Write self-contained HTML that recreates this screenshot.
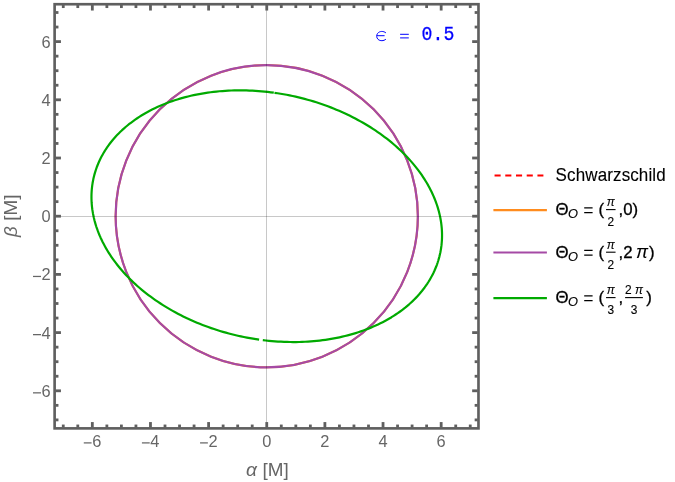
<!DOCTYPE html>
<html><head><meta charset="utf-8"><title>plot</title>
<style>html,body{margin:0;padding:0;background:#fff;}body{width:675px;height:482px;overflow:hidden;font-family:"Liberation Sans",sans-serif;}svg{display:block;will-change:transform;}text{font-family:"Liberation Sans",sans-serif;}.mono{font-family:"Liberation Mono",monospace;}</style>
</head><body>
<svg width="675" height="482" viewBox="0 0 675 482">
<rect width="675" height="482" fill="#fff"/>
<circle cx="266.75" cy="216.20" r="151.13" fill="none" stroke="#ff8c1e" stroke-width="2.05"/>
<circle cx="266.75" cy="216.20" r="151.13" fill="none" stroke="#a54aa5" stroke-width="2.20"/>
<path d="M273.80,92.69 L270.75,92.29 L267.69,91.93 L264.63,91.60 L261.58,91.31 L258.52,91.06 L255.47,90.85 L252.43,90.67 L249.38,90.54 L246.34,90.44 L243.31,90.38 L240.29,90.36 L237.27,90.37 L234.26,90.43 L231.26,90.52 L228.28,90.65 L225.30,90.82 L222.34,91.03 L219.39,91.27 L216.45,91.56 L213.53,91.88 L210.63,92.24 L207.74,92.64 L204.88,93.07 L202.03,93.54 L199.20,94.05 L196.39,94.60 L193.60,95.18 L190.83,95.80 L188.09,96.46 L185.37,97.15 L182.68,97.88 L180.01,98.64 L177.37,99.44 L174.75,100.28 L172.16,101.15 L169.60,102.06 L167.08,103.00 L164.58,103.97 L162.11,104.98 L159.67,106.03 L157.27,107.10 L154.90,108.21 L152.57,109.36 L150.26,110.53 L148.00,111.74 L145.77,112.98 L143.58,114.25 L141.42,115.55 L139.30,116.88 L137.22,118.25 L135.18,119.64 L133.19,121.06 L131.23,122.51 L129.31,123.99 L127.43,125.50 L125.60,127.03 L123.81,128.59 L122.06,130.18 L120.36,131.80 L118.70,133.44 L117.09,135.10 L115.52,136.79 L114.00,138.51 L112.52,140.24 L111.09,142.00 L109.71,143.79 L108.38,145.59 L107.09,147.42 L105.85,149.27 L104.67,151.13 L103.53,153.02 L102.44,154.93 L101.40,156.85 L100.41,158.80 L99.47,160.76 L98.58,162.74 L97.75,164.73 L96.96,166.74 L96.23,168.77 L95.55,170.81 L94.92,172.86 L94.34,174.92 L93.81,177.00 L93.34,179.09 L92.92,181.20 L92.55,183.31 L92.24,185.43 L91.98,187.56 L91.77,189.70 L91.62,191.85 L91.51,194.01 L91.47,196.17 L91.47,198.34 L91.53,200.51 L91.64,202.69 L91.81,204.88 L92.02,207.06 L92.29,209.25 L92.62,211.44 L93.00,213.64 L93.43,215.83 L93.91,218.03 L94.44,220.22 L95.03,222.41 L95.67,224.60 L96.36,226.79 L97.11,228.97 L97.90,231.15 L98.75,233.33 L99.64,235.50 L100.59,237.67 L101.59,239.82 L102.64,241.98 L103.74,244.12 L104.89,246.25 L106.08,248.38 L107.33,250.50 L108.62,252.60 L109.97,254.70 L111.36,256.78 L112.80,258.85 L114.28,260.91 L115.81,262.95 L117.39,264.98 L119.01,267.00 L120.68,269.00 L122.39,270.98 L124.14,272.95 L125.94,274.89 L127.78,276.83 L129.67,278.74 L131.59,280.63 L133.56,282.51 L135.57,284.36 L137.61,286.20 L139.70,288.01 L141.82,289.80 L143.99,291.57 L146.19,293.31 L148.42,295.04 L150.69,296.73 L153.00,298.41 L155.35,300.06 L157.72,301.68 L160.13,303.28 L162.57,304.85 L165.05,306.39 L167.55,307.91 L170.08,309.40 L172.65,310.86 L175.24,312.29 L177.86,313.69 L180.51,315.06 L183.18,316.40 L185.88,317.72 L188.60,319.00 L191.35,320.25 L194.12,321.46 L196.91,322.65 L199.73,323.81 L202.56,324.93 L205.42,326.01 L208.29,327.07 L211.18,328.09 L214.08,329.08 L217.01,330.03 L219.94,330.95 L222.90,331.83 L225.86,332.68 L228.84,333.49 L231.83,334.27 L234.83,335.01 L237.84,335.72 L240.86,336.38 L243.88,337.02 L246.92,337.61 L249.96,338.17 L253.00,338.69 L256.05,339.18 L259.10,339.62" fill="none" stroke="#00aa00" stroke-width="2.20" stroke-linejoin="round"/>
<path d="M262.80,340.11 L265.84,340.48 L268.88,340.80 L271.91,341.09 L274.95,341.34 L277.98,341.55 L281.01,341.72 L284.04,341.86 L287.06,341.96 L290.07,342.02 L293.08,342.04 L296.08,342.03 L299.07,341.98 L302.05,341.89 L305.02,341.76 L307.98,341.59 L310.93,341.39 L313.86,341.15 L316.78,340.87 L319.69,340.55 L322.57,340.20 L325.45,339.81 L328.30,339.38 L331.14,338.92 L333.95,338.42 L336.75,337.88 L339.52,337.30 L342.28,336.69 L345.01,336.04 L347.71,335.36 L350.39,334.64 L353.05,333.89 L355.68,333.10 L358.29,332.27 L360.87,331.41 L363.41,330.52 L365.93,329.59 L368.42,328.62 L370.88,327.63 L373.31,326.60 L375.71,325.53 L378.07,324.44 L380.40,323.31 L382.70,322.15 L384.96,320.95 L387.18,319.73 L389.37,318.47 L391.53,317.19 L393.64,315.87 L395.72,314.52 L397.76,313.15 L399.76,311.74 L401.71,310.31 L403.63,308.85 L405.51,307.36 L407.34,305.84 L409.14,304.30 L410.89,302.72 L412.60,301.13 L414.26,299.51 L415.88,297.86 L417.45,296.19 L418.98,294.49 L420.46,292.77 L421.90,291.03 L423.29,289.26 L424.64,287.48 L425.93,285.67 L427.18,283.84 L428.38,281.99 L429.53,280.12 L430.63,278.23 L431.69,276.33 L432.69,274.40 L433.65,272.46 L434.55,270.50 L435.40,268.52 L436.21,266.53 L436.96,264.52 L437.66,262.50 L438.31,260.47 L438.90,258.42 L439.45,256.36 L439.94,254.29 L440.39,252.20 L440.78,250.11 L441.11,248.00 L441.40,245.89 L441.63,243.76 L441.81,241.63 L441.94,239.49 L442.02,237.34 L442.04,235.19 L442.01,233.03 L441.93,230.87 L441.79,228.70 L441.60,226.53 L441.36,224.35 L441.07,222.17 L440.72,219.99 L440.32,217.81 L439.87,215.63 L439.37,213.45 L438.82,211.27 L438.21,209.09 L437.56,206.91 L436.85,204.74 L436.09,202.57 L435.28,200.40 L434.42,198.24 L433.51,196.09 L432.55,193.94 L431.53,191.79 L430.47,189.66 L429.36,187.53 L428.21,185.41 L427.00,183.30 L425.74,181.20 L424.44,179.11 L423.09,177.03 L421.69,174.96 L420.25,172.91 L418.76,170.87 L417.22,168.84 L415.64,166.83 L414.02,164.83 L412.35,162.84 L410.63,160.88 L408.88,158.93 L407.08,156.99 L405.23,155.08 L403.35,153.18 L401.43,151.30 L399.46,149.44 L397.46,147.60 L395.41,145.79 L393.33,143.99 L391.21,142.21 L389.05,140.46 L386.86,138.73 L384.63,137.02 L382.36,135.34 L380.06,133.68 L377.72,132.05 L375.36,130.44 L372.95,128.85 L370.52,127.30 L368.06,125.77 L365.56,124.26 L363.04,122.79 L360.49,121.34 L357.90,119.92 L355.30,118.53 L352.66,117.17 L350.00,115.84 L347.31,114.54 L344.60,113.27 L341.87,112.03 L339.11,110.82 L336.33,109.64 L333.54,108.50 L330.72,107.39 L327.88,106.31 L325.02,105.26 L322.15,104.25 L319.26,103.27 L316.35,102.32 L313.43,101.41 L310.49,100.54 L307.55,99.69 L304.58,98.89 L301.61,98.12 L298.63,97.38 L295.64,96.68 L292.64,96.01 L289.63,95.39 L286.61,94.79 L283.59,94.24 L280.56,93.72 L277.53,93.24 L274.50,92.79" fill="none" stroke="#00aa00" stroke-width="2.20" stroke-linejoin="round"/>
<g stroke="#000" stroke-opacity="0.215" stroke-width="1" shape-rendering="crispEdges">
<line x1="266.5" y1="4.22" x2="266.5" y2="428.38"/>
<line x1="54.62" y1="216.5" x2="478.48" y2="216.5"/>
</g>
<rect x="54.62" y="4.22" width="423.86" height="424.16" fill="none" stroke="#5f5f5f" stroke-width="2.65"/>
<g stroke="#5f5f5f" stroke-width="2.80">
<line x1="63.26" y1="424.56" x2="63.26" y2="427.56"/>
<line x1="63.26" y1="5.04" x2="63.26" y2="8.04"/>
<line x1="55.45" y1="419.90" x2="58.45" y2="419.90"/>
<line x1="474.66" y1="419.90" x2="477.66" y2="419.90"/>
<line x1="77.79" y1="424.56" x2="77.79" y2="427.56"/>
<line x1="77.79" y1="5.04" x2="77.79" y2="8.04"/>
<line x1="55.45" y1="405.35" x2="58.45" y2="405.35"/>
<line x1="474.66" y1="405.35" x2="477.66" y2="405.35"/>
<line x1="92.33" y1="422.06" x2="92.33" y2="427.56"/>
<line x1="92.33" y1="5.04" x2="92.33" y2="10.54"/>
<line x1="55.45" y1="390.80" x2="60.95" y2="390.80"/>
<line x1="472.16" y1="390.80" x2="477.66" y2="390.80"/>
<line x1="106.87" y1="424.56" x2="106.87" y2="427.56"/>
<line x1="106.87" y1="5.04" x2="106.87" y2="8.04"/>
<line x1="55.45" y1="376.25" x2="58.45" y2="376.25"/>
<line x1="474.66" y1="376.25" x2="477.66" y2="376.25"/>
<line x1="121.40" y1="424.56" x2="121.40" y2="427.56"/>
<line x1="121.40" y1="5.04" x2="121.40" y2="8.04"/>
<line x1="55.45" y1="361.70" x2="58.45" y2="361.70"/>
<line x1="474.66" y1="361.70" x2="477.66" y2="361.70"/>
<line x1="135.94" y1="424.56" x2="135.94" y2="427.56"/>
<line x1="135.94" y1="5.04" x2="135.94" y2="8.04"/>
<line x1="55.45" y1="347.15" x2="58.45" y2="347.15"/>
<line x1="474.66" y1="347.15" x2="477.66" y2="347.15"/>
<line x1="150.47" y1="422.06" x2="150.47" y2="427.56"/>
<line x1="150.47" y1="5.04" x2="150.47" y2="10.54"/>
<line x1="55.45" y1="332.60" x2="60.95" y2="332.60"/>
<line x1="472.16" y1="332.60" x2="477.66" y2="332.60"/>
<line x1="165.00" y1="424.56" x2="165.00" y2="427.56"/>
<line x1="165.00" y1="5.04" x2="165.00" y2="8.04"/>
<line x1="55.45" y1="318.05" x2="58.45" y2="318.05"/>
<line x1="474.66" y1="318.05" x2="477.66" y2="318.05"/>
<line x1="179.54" y1="424.56" x2="179.54" y2="427.56"/>
<line x1="179.54" y1="5.04" x2="179.54" y2="8.04"/>
<line x1="55.45" y1="303.50" x2="58.45" y2="303.50"/>
<line x1="474.66" y1="303.50" x2="477.66" y2="303.50"/>
<line x1="194.07" y1="424.56" x2="194.07" y2="427.56"/>
<line x1="194.07" y1="5.04" x2="194.07" y2="8.04"/>
<line x1="55.45" y1="288.95" x2="58.45" y2="288.95"/>
<line x1="474.66" y1="288.95" x2="477.66" y2="288.95"/>
<line x1="208.61" y1="422.06" x2="208.61" y2="427.56"/>
<line x1="208.61" y1="5.04" x2="208.61" y2="10.54"/>
<line x1="55.45" y1="274.40" x2="60.95" y2="274.40"/>
<line x1="472.16" y1="274.40" x2="477.66" y2="274.40"/>
<line x1="223.14" y1="424.56" x2="223.14" y2="427.56"/>
<line x1="223.14" y1="5.04" x2="223.14" y2="8.04"/>
<line x1="55.45" y1="259.85" x2="58.45" y2="259.85"/>
<line x1="474.66" y1="259.85" x2="477.66" y2="259.85"/>
<line x1="237.68" y1="424.56" x2="237.68" y2="427.56"/>
<line x1="237.68" y1="5.04" x2="237.68" y2="8.04"/>
<line x1="55.45" y1="245.30" x2="58.45" y2="245.30"/>
<line x1="474.66" y1="245.30" x2="477.66" y2="245.30"/>
<line x1="252.22" y1="424.56" x2="252.22" y2="427.56"/>
<line x1="252.22" y1="5.04" x2="252.22" y2="8.04"/>
<line x1="55.45" y1="230.75" x2="58.45" y2="230.75"/>
<line x1="474.66" y1="230.75" x2="477.66" y2="230.75"/>
<line x1="266.75" y1="422.06" x2="266.75" y2="427.56"/>
<line x1="266.75" y1="5.04" x2="266.75" y2="10.54"/>
<line x1="55.45" y1="216.20" x2="60.95" y2="216.20"/>
<line x1="472.16" y1="216.20" x2="477.66" y2="216.20"/>
<line x1="281.29" y1="424.56" x2="281.29" y2="427.56"/>
<line x1="281.29" y1="5.04" x2="281.29" y2="8.04"/>
<line x1="55.45" y1="201.65" x2="58.45" y2="201.65"/>
<line x1="474.66" y1="201.65" x2="477.66" y2="201.65"/>
<line x1="295.82" y1="424.56" x2="295.82" y2="427.56"/>
<line x1="295.82" y1="5.04" x2="295.82" y2="8.04"/>
<line x1="55.45" y1="187.10" x2="58.45" y2="187.10"/>
<line x1="474.66" y1="187.10" x2="477.66" y2="187.10"/>
<line x1="310.36" y1="424.56" x2="310.36" y2="427.56"/>
<line x1="310.36" y1="5.04" x2="310.36" y2="8.04"/>
<line x1="55.45" y1="172.55" x2="58.45" y2="172.55"/>
<line x1="474.66" y1="172.55" x2="477.66" y2="172.55"/>
<line x1="324.89" y1="422.06" x2="324.89" y2="427.56"/>
<line x1="324.89" y1="5.04" x2="324.89" y2="10.54"/>
<line x1="55.45" y1="158.00" x2="60.95" y2="158.00"/>
<line x1="472.16" y1="158.00" x2="477.66" y2="158.00"/>
<line x1="339.43" y1="424.56" x2="339.43" y2="427.56"/>
<line x1="339.43" y1="5.04" x2="339.43" y2="8.04"/>
<line x1="55.45" y1="143.45" x2="58.45" y2="143.45"/>
<line x1="474.66" y1="143.45" x2="477.66" y2="143.45"/>
<line x1="353.96" y1="424.56" x2="353.96" y2="427.56"/>
<line x1="353.96" y1="5.04" x2="353.96" y2="8.04"/>
<line x1="55.45" y1="128.90" x2="58.45" y2="128.90"/>
<line x1="474.66" y1="128.90" x2="477.66" y2="128.90"/>
<line x1="368.50" y1="424.56" x2="368.50" y2="427.56"/>
<line x1="368.50" y1="5.04" x2="368.50" y2="8.04"/>
<line x1="55.45" y1="114.35" x2="58.45" y2="114.35"/>
<line x1="474.66" y1="114.35" x2="477.66" y2="114.35"/>
<line x1="383.03" y1="422.06" x2="383.03" y2="427.56"/>
<line x1="383.03" y1="5.04" x2="383.03" y2="10.54"/>
<line x1="55.45" y1="99.80" x2="60.95" y2="99.80"/>
<line x1="472.16" y1="99.80" x2="477.66" y2="99.80"/>
<line x1="397.56" y1="424.56" x2="397.56" y2="427.56"/>
<line x1="397.56" y1="5.04" x2="397.56" y2="8.04"/>
<line x1="55.45" y1="85.25" x2="58.45" y2="85.25"/>
<line x1="474.66" y1="85.25" x2="477.66" y2="85.25"/>
<line x1="412.10" y1="424.56" x2="412.10" y2="427.56"/>
<line x1="412.10" y1="5.04" x2="412.10" y2="8.04"/>
<line x1="55.45" y1="70.70" x2="58.45" y2="70.70"/>
<line x1="474.66" y1="70.70" x2="477.66" y2="70.70"/>
<line x1="426.63" y1="424.56" x2="426.63" y2="427.56"/>
<line x1="426.63" y1="5.04" x2="426.63" y2="8.04"/>
<line x1="55.45" y1="56.15" x2="58.45" y2="56.15"/>
<line x1="474.66" y1="56.15" x2="477.66" y2="56.15"/>
<line x1="441.17" y1="422.06" x2="441.17" y2="427.56"/>
<line x1="441.17" y1="5.04" x2="441.17" y2="10.54"/>
<line x1="55.45" y1="41.60" x2="60.95" y2="41.60"/>
<line x1="472.16" y1="41.60" x2="477.66" y2="41.60"/>
<line x1="455.71" y1="424.56" x2="455.71" y2="427.56"/>
<line x1="455.71" y1="5.04" x2="455.71" y2="8.04"/>
<line x1="55.45" y1="27.05" x2="58.45" y2="27.05"/>
<line x1="474.66" y1="27.05" x2="477.66" y2="27.05"/>
<line x1="470.24" y1="424.56" x2="470.24" y2="427.56"/>
<line x1="470.24" y1="5.04" x2="470.24" y2="8.04"/>
<line x1="55.45" y1="12.50" x2="58.45" y2="12.50"/>
<line x1="474.66" y1="12.50" x2="477.66" y2="12.50"/>
</g>
<g fill="#666" font-size="16.40">
<text x="92.13" y="446.90">6</text>
<line x1="83.78" y1="442.90" x2="91.58" y2="442.90" stroke="#666" stroke-width="1.25"/>
<text x="50.60" y="396.75" text-anchor="end">6</text>
<line x1="33.00" y1="392.85" x2="41.00" y2="392.85" stroke="#666" stroke-width="1.25"/>
<text x="150.27" y="446.90">4</text>
<line x1="141.92" y1="442.90" x2="149.72" y2="442.90" stroke="#666" stroke-width="1.25"/>
<text x="50.60" y="338.55" text-anchor="end">4</text>
<line x1="33.00" y1="334.65" x2="41.00" y2="334.65" stroke="#666" stroke-width="1.25"/>
<text x="208.41" y="446.90">2</text>
<line x1="200.06" y1="442.90" x2="207.86" y2="442.90" stroke="#666" stroke-width="1.25"/>
<text x="50.60" y="280.35" text-anchor="end">2</text>
<line x1="33.00" y1="276.45" x2="41.00" y2="276.45" stroke="#666" stroke-width="1.25"/>
<text x="266.75" y="446.90" text-anchor="middle">0</text>
<text x="50.60" y="222.15" text-anchor="end">0</text>
<text x="324.89" y="446.90" text-anchor="middle">2</text>
<text x="50.60" y="163.95" text-anchor="end">2</text>
<text x="383.03" y="446.90" text-anchor="middle">4</text>
<text x="50.60" y="105.75" text-anchor="end">4</text>
<text x="441.17" y="446.90" text-anchor="middle">6</text>
<text x="50.60" y="47.55" text-anchor="end">6</text>
</g>
<g fill="#666" font-size="18.40">
<text x="245.9" y="475.9" font-size="19.2" font-style="italic">α</text>
<text x="262.6" y="475.9" font-size="18.9">[M]</text>
<g transform="translate(16.9,216.6) rotate(-90)">
<text x="-20.5" y="0" font-size="18.8" font-style="italic">β</text>
<text x="-4.2" y="0" font-size="18.9">[M]</text>
</g>
</g>
<g fill="none" stroke="#0000ff" stroke-width="1.0">
<path d="M385.9,32.9 C383.6,30.9 379.6,30.9 377.7,33.3 C376.2,35.2 376.4,37.8 378.0,39.3 C380.2,41.3 383.7,41.0 385.9,39.2"/>
<path d="M376.9,35.7 H384.6"/>
<path d="M400.1,34.3 H408.8 M400.1,37.9 H408.8"/>
</g>
<text class="mono" fill="#0000ff" font-size="20.3" stroke="#0000ff" stroke-width="0.28" transform="translate(421.6,40.3) scale(0.895,1)">0.5</text>
<g fill="none" stroke-width="2.20">
<line x1="494.55" y1="175.5" x2="543.4" y2="175.5" stroke="#ff0000" stroke-dasharray="6.1 4.62"/>
<line x1="493.4" y1="210.1" x2="546.9" y2="210.1" stroke="#ff8c1e"/>
<line x1="493.4" y1="252.5" x2="546.9" y2="252.5" stroke="#a54aa5"/>
<line x1="493.4" y1="298.05" x2="546.9" y2="298.05" stroke="#00aa00"/>
</g>
<g fill="#000" stroke="#000" stroke-width="0.3" font-size="16.80">
<text transform="translate(555.6,180.95) scale(1,1.075)" font-size="17" stroke-width="0.12" textLength="110.1" lengthAdjust="spacing">Schwarzschild</text>
<text x="555.5" y="215.00">Θ</text>
<text x="568.0" y="218.30" font-size="12.8" font-style="italic" stroke-width="0.15">O</text>
<path d="M584.2,207.95 H592.6 M584.2,212.55 H592.6" stroke="#000" stroke-width="1.25" fill="none"/>
<text x="598.5" y="215.00">(</text>
<line x1="606.05" y1="209.60" x2="615.55" y2="209.60" stroke="#000" stroke-width="1.1"/>
<text x="610.80" y="206.20" font-size="11.90" stroke-width="0.12" text-anchor="middle"><tspan font-style="italic">π</tspan></text>
<text x="610.80" y="226.20" font-size="11.90" stroke-width="0.12" text-anchor="middle">2</text>
<text x="618.6" y="215.0">,0)</text>
<text x="555.5" y="257.50">Θ</text>
<text x="568.0" y="260.80" font-size="12.8" font-style="italic" stroke-width="0.15">O</text>
<path d="M584.2,250.45 H592.6 M584.2,255.05 H592.6" stroke="#000" stroke-width="1.25" fill="none"/>
<text x="598.5" y="257.50">(</text>
<line x1="606.05" y1="252.20" x2="615.55" y2="252.20" stroke="#000" stroke-width="1.1"/>
<text x="610.80" y="248.80" font-size="11.90" stroke-width="0.12" text-anchor="middle"><tspan font-style="italic">π</tspan></text>
<text x="610.80" y="268.80" font-size="11.90" stroke-width="0.12" text-anchor="middle">2</text>
<text x="618.6" y="257.5">,2</text>
<text x="636.0" y="257.5" font-size="18" stroke-width="0.1" font-style="italic">π</text>
<text x="648.9" y="257.5">)</text>
<text x="555.5" y="303.00">Θ</text>
<text x="568.0" y="306.30" font-size="12.8" font-style="italic" stroke-width="0.15">O</text>
<path d="M584.2,295.95 H592.6 M584.2,300.55 H592.6" stroke="#000" stroke-width="1.25" fill="none"/>
<text x="598.5" y="303.00">(</text>
<line x1="606.05" y1="297.60" x2="615.55" y2="297.60" stroke="#000" stroke-width="1.1"/>
<text x="610.80" y="294.20" font-size="11.90" stroke-width="0.12" text-anchor="middle"><tspan font-style="italic">π</tspan></text>
<text x="610.80" y="314.20" font-size="11.90" stroke-width="0.12" text-anchor="middle">3</text>
<text x="618.6" y="303.0">,</text>
<line x1="625.10" y1="297.60" x2="642.90" y2="297.60" stroke="#000" stroke-width="1.1"/>
<text x="634.00" y="294.20" font-size="11.90" stroke-width="0.12" text-anchor="middle">2 <tspan font-style="italic">π</tspan></text>
<text x="634.00" y="314.20" font-size="11.90" stroke-width="0.12" text-anchor="middle">3</text>
<text x="646.3" y="303.0">)</text>
</g>
</svg>
</body></html>
